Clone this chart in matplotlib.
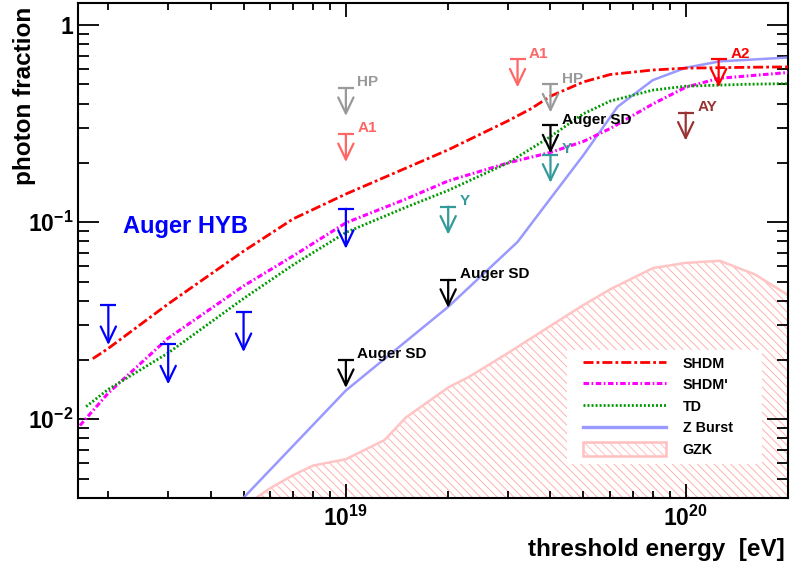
import numpy as np
import matplotlib
matplotlib.use('Agg')
import matplotlib.pyplot as plt
from matplotlib.ticker import LogLocator, FuncFormatter, NullFormatter
from matplotlib.lines import Line2D
from matplotlib.patches import Patch, Rectangle
from matplotlib.transforms import offset_copy

plt.rcParams['font.family'] = ['Liberation Sans', 'DejaVu Sans']
plt.rcParams['font.weight'] = 'bold'
plt.rcParams['mathtext.fontset'] = 'custom'
plt.rcParams['mathtext.rm'] = 'Liberation Sans:bold'
plt.rcParams['mathtext.bf'] = 'Liberation Sans:bold'
plt.rcParams['mathtext.it'] = 'Liberation Sans:bold:italic'
plt.rcParams['mathtext.sf'] = 'Liberation Sans:bold'
plt.rcParams['lines.scale_dashes'] = False
plt.rcParams['hatch.linewidth'] = 0.7

# ---------------- data ----------------
shdm_E = [1.8e18, 2e18, 3e18, 5e18, 7e18, 1e19, 1.5e19, 2e19, 3e19, 3.5e19, 4e19, 5e19, 6e19, 8e19, 1e20, 1.5e20, 2e20]
shdm_f = [0.0203, 0.0229, 0.0385, 0.0713, 0.104, 0.139, 0.188, 0.233, 0.327, 0.376, 0.436, 0.515, 0.562, 0.592, 0.605, 0.611, 0.614]

shdmp_E = [1.65e18, 2e18, 3e18, 5e18, 7e18, 1e19, 1.5e19, 2e19, 3e19, 4e19, 5e19, 6e19, 8e19, 1e20, 1.25e20, 2e20]
shdmp_f = [0.0093, 0.0136, 0.0258, 0.0475, 0.0675, 0.0993, 0.131, 0.162, 0.200, 0.226, 0.257, 0.299, 0.398, 0.484, 0.537, 0.575]

td_E = [1.72e18, 2e18, 3e18, 5e18, 7e18, 1e19, 1.5e19, 2e19, 3e19, 4e19, 5e19, 6e19, 8e19, 1e20, 1.5e20, 2e20]
td_f = [0.0116, 0.0142, 0.0217, 0.0410, 0.0608, 0.0887, 0.119, 0.145, 0.200, 0.272, 0.355, 0.412, 0.468, 0.490, 0.501, 0.505]

zb_E = [5e18, 1e19, 2e19, 3.2e19, 4e19, 5e19, 6.3e19, 8e19, 1e20, 1.26e20, 2e20]
zb_f = [0.0040, 0.0140, 0.0372, 0.0794, 0.132, 0.219, 0.385, 0.526, 0.608, 0.655, 0.685]

gzk_E = [5.45e18, 6e18, 7e18, 8e18, 1e19, 1.3e19, 1.5e19, 2e19, 2.3e19, 3e19, 4e19, 5e19, 6e19, 8e19, 1e20, 1.26e20, 1.6e20, 2e20]
gzk_f = [0.0040, 0.00448, 0.00521, 0.00582, 0.00627, 0.00785, 0.0102, 0.0145, 0.0164, 0.0217, 0.0298, 0.0380, 0.0457, 0.0585, 0.0622, 0.0637, 0.0543, 0.0427]

hyb_E = [2e18, 3e18, 5e18, 1e19]
hyb_f = [0.038, 0.024, 0.035, 0.117]
sd_E = [1e19, 2e19, 4e19]
sd_f = [0.020, 0.051, 0.31]
hp_E = [1e19, 4e19]
hp_f = [0.48, 0.50]
a1_E = [1e19, 3.2e19]
a1_f = [0.28, 0.67]
y_E = [2e19, 4e19]
y_f = [0.12, 0.22]
a2_E = [1.25e20]
a2_f = [0.67]
ay_E = [1e20]
ay_f = [0.36]

legend_labels = ['SHDM', "SHDM'", 'TD', 'Z Burst', 'GZK']
x_label = 'threshold energy  [eV]'
y_label = 'photon fraction'

# ---------------- figure ----------------
W, H = 790, 564
fig = plt.figure(figsize=(W / 100, H / 100), dpi=100)
ax_l, ax_r, ax_t, ax_b = 77.7, 788.0, 2.7, 497.7
ax = fig.add_axes([ax_l / W, 1 - ax_b / H, (ax_r - ax_l) / W, (ax_b - ax_t) / H])
ax.set_xscale('log')
ax.set_yscale('log')
ax.set_xlim(1.625e18, 2e20)
ax.set_ylim(0.004, 1.3)

# styles
ls_shdm = (0, (7.2, 2.2, 2.0, 2.2))
ls_shdmp = (0, (4.0, 1.8, 1.2, 1.8))
ls_td = (0, (1.4, 1.5))

ax.fill_between(gzk_E, 1e-4, gzk_f, facecolor='none', edgecolor='#ffb0b0',
                hatch='\\\\\\\\', linewidth=0, zorder=1)
ax.plot(gzk_E, gzk_f, color='#ffc4c4', lw=1.8, zorder=1.5)

ax.plot(shdm_E, shdm_f, color='#ff0000', lw=2.0, ls=ls_shdm, zorder=3)
ax.plot(shdmp_E, shdmp_f, color='#ff00ff', lw=2.2, ls=ls_shdmp, zorder=3)
ax.plot(td_E, td_f, color='#009900', lw=2.0, ls=ls_td, dash_capstyle='butt', zorder=3)
ax.plot(zb_E, zb_f, color='#9999ff', lw=1.8, zorder=2.5)


def upper_limits(E, f, color, label=None, length_px=28):
    tip = offset_copy(ax.transData, fig=fig, x=0, y=-length_px * 0.72, units='points')
    for e, v in zip(E, f):
        ax.plot([e], [v], marker='_', ms=12.2, mew=1.6, color=color, zorder=5)
        ax.annotate('', xy=(e, v), xycoords=tip, xytext=(e, v), textcoords='data',
                    arrowprops=dict(arrowstyle='->,head_length=1.15,head_width=0.55',
                                    color=color, lw=1.6, shrinkA=0, shrinkB=0,
                                    mutation_scale=10), zorder=5)
        if label:
            ax.annotate(label, xy=(e, v), xytext=(8.3, 1.2), textcoords='offset points',
                        color=color, fontsize=11, fontweight='bold',
                        ha='left', va='baseline', zorder=6)


upper_limits(hyb_E, hyb_f, '#0000ff', None, length_px=40)
upper_limits(sd_E, sd_f, '#000000', 'Auger SD')
upper_limits(hp_E, hp_f, '#999999', 'HP')
upper_limits(a1_E, a1_f, '#ff6666', 'A1')
upper_limits(y_E, y_f, '#339999', 'Y')
upper_limits(a2_E, a2_f, '#ff0000', 'A2')
upper_limits(ay_E, ay_f, '#993333', 'AY')

ax.text((123 - ax_l) / (ax_r - ax_l), (ax_b - 233.3) / (ax_b - ax_t), 'Auger HYB',
        transform=ax.transAxes, color='#0000ff', fontsize=17, fontweight='bold',
        ha='left', va='baseline')

# legend
def ax_x(px):
    return (px - ax_l) / (ax_r - ax_l)


def ax_y(py):
    return (ax_b - py) / (ax_b - ax_t)


ax.add_patch(Rectangle((ax_x(567), ax_y(464)), ax_x(762) - ax_x(567), ax_y(350) - ax_y(464),
                       transform=ax.transAxes, facecolor='white', edgecolor='none', zorder=7))
handles = [Line2D([], [], color='#ff0000', lw=2.0, ls=ls_shdm),
           Line2D([], [], color='#ff00ff', lw=2.2, ls=ls_shdmp),
           Line2D([], [], color='#009900', lw=2.0, ls=ls_td, dash_capstyle='butt'),
           Line2D([], [], color='#9999ff', lw=2.4),
           Patch(facecolor='white', edgecolor='#ffc0c0', hatch='\\\\\\\\', lw=1.8)]
leg = ax.legend(handles, legend_labels, loc='upper left',
                bbox_to_anchor=(ax_x(583.3), ax_y(356.0)), frameon=False,
                fontsize=10.3, handlelength=5.8, handleheight=1.12, handletextpad=1.15,
                labelspacing=0.47, borderpad=0, borderaxespad=0)
leg.set_zorder(8)
for t in leg.get_texts():
    t.set_fontweight('bold')

# ticks
def fmt(v, pos):
    n = int(round(np.log10(v)))
    if n == 0:
        return '1'
    return r'$10^{%d}$' % n


for axis in (ax.xaxis, ax.yaxis):
    axis.set_major_locator(LogLocator(base=10, numticks=20))
    axis.set_minor_locator(LogLocator(base=10, subs=np.arange(2, 10), numticks=20))
    axis.set_minor_formatter(NullFormatter())
    axis.set_major_formatter(FuncFormatter(fmt))

ax.tick_params(axis='both', which='both', direction='in', top=True, right=True, width=1.3)
ax.tick_params(axis='y', which='major', length=15.1, pad=3, labelsize=16.5)
ax.tick_params(axis='y', which='minor', length=7.6)
ax.tick_params(axis='x', which='major', length=10, pad=6, labelsize=16.5)
ax.tick_params(axis='x', which='minor', length=5)
for s in ax.spines.values():
    s.set_linewidth(1.5)

fig.text(31 / W, 1 - 7 / H, y_label, rotation=90, rotation_mode='anchor',
         ha='right', va='baseline', fontsize=17.5, fontweight='bold')
fig.text(785 / W, 1 - 556 / H, x_label, ha='right', va='baseline',
         fontsize=17.5, fontweight='bold')

fig.savefig('out.png', dpi=100)
